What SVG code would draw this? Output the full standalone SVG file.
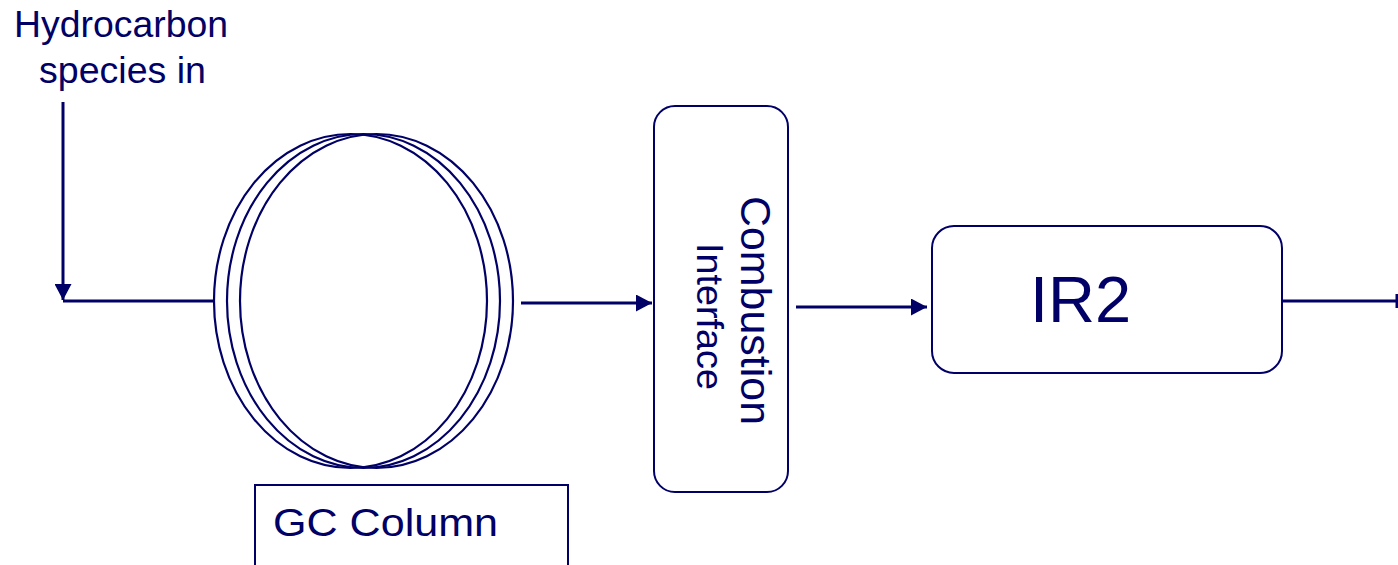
<svg xmlns="http://www.w3.org/2000/svg" width="1398" height="565" viewBox="0 0 1398 565">
<defs>
<style>
.ln{stroke:#000066;stroke-width:3;fill:none}
.sh{stroke:#000066;stroke-width:2.2;fill:none}
.bx{stroke:#000066;stroke-width:2;fill:#ffffff}
.t{font-family:"Liberation Sans",Arial,sans-serif;fill:#000066}
</style>
<marker id="ah" viewBox="0 0 16 17" refX="16" refY="8.5" markerWidth="16" markerHeight="17" markerUnits="userSpaceOnUse" orient="auto">
<path d="M0,0 L16,8.5 L0,17 Z" fill="#000066"/>
</marker>
</defs>
<rect width="1398" height="565" fill="#ffffff"/>
<g id="connectors">
<line class="ln" x1="63" y1="102" x2="63" y2="300" marker-end="url(#ah)"/>
<line class="ln" x1="63" y1="301" x2="215" y2="301"/>
<line class="ln" x1="521" y1="303" x2="652" y2="303" marker-end="url(#ah)"/>
<line class="ln" x1="796" y1="307" x2="927" y2="307" marker-end="url(#ah)"/>
<line class="ln" x1="1282" y1="301" x2="1398" y2="301"/>
<rect x="1395.5" y="294" width="3" height="14" fill="#000066"/>
</g>
<g id="label-input">
<text class="t" x="14" y="37" font-size="36" textLength="214" lengthAdjust="spacingAndGlyphs">Hydrocarbon</text>
<text class="t" x="39" y="83" font-size="36" textLength="167" lengthAdjust="spacingAndGlyphs">species in</text>
</g>
<g id="gc-column-coil">
<ellipse class="sh" cx="350.5" cy="301" rx="136.5" ry="167"/>
<ellipse class="sh" cx="363.5" cy="301" rx="136.5" ry="167"/>
<ellipse class="sh" cx="376.5" cy="301" rx="136.5" ry="167"/>
</g>
<g id="gc-column-label">
<rect class="bx" x="255" y="485" width="313" height="100"/>
<text class="t" x="273" y="536" font-size="38" textLength="225" lengthAdjust="spacingAndGlyphs">GC Column</text>
</g>
<g id="combustion-interface">
<rect class="bx" x="654" y="106" width="134" height="386" rx="21" ry="21"/>
<text class="t" transform="translate(741,196) rotate(90)" font-size="42" textLength="229" lengthAdjust="spacingAndGlyphs">Combustion</text>
<text class="t" transform="translate(697,243) rotate(90)" font-size="36" textLength="147" lengthAdjust="spacingAndGlyphs">Interface</text>
</g>
<g id="ir2">
<rect class="bx" x="932" y="226" width="350" height="147" rx="22" ry="22"/>
<text class="t" x="1030" y="322" font-size="65">IR2</text>
</g>
</svg>
